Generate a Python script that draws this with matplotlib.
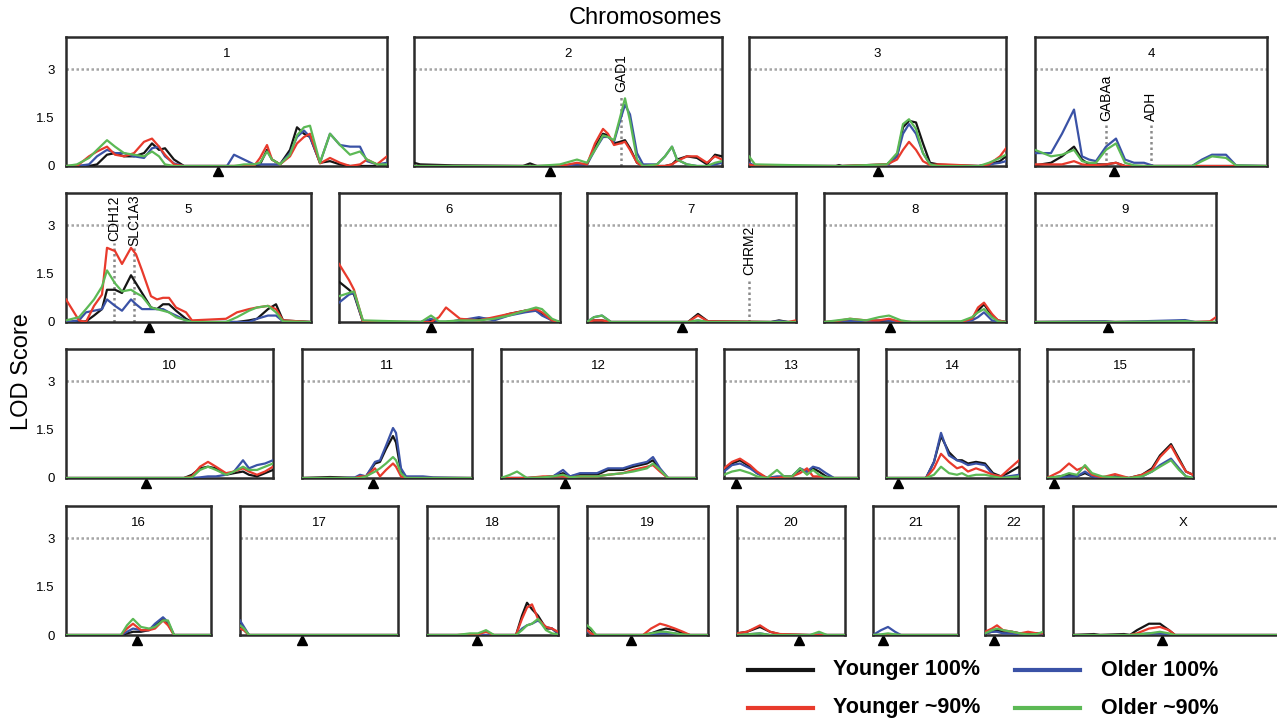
import matplotlib.pyplot as plt
from matplotlib.lines import Line2D
from matplotlib.transforms import blended_transform_factory

plt.rcParams['font.family'] = ['Liberation Sans', 'DejaVu Sans']

# chromosome layout (4 rows of panels)
rows = [
    ['1', '2', '3', '4'],
    ['5', '6', '7', '8', '9'],
    ['10', '11', '12', '13', '14', '15'],
    ['16', '17', '18', '19', '20', '21', '22', 'X'],
]

# chromosome length (cM) and centromere position (cM)
chrom_length = {'1': 321, '2': 308, '3': 257, '4': 232, '5': 245, '6': 221, '7': 209,
                '8': 182, '9': 181, '10': 207, '11': 170, '12': 195, '13': 134, '14': 133,
                '15': 146, '16': 145, '17': 158, '18': 131, '19': 121, '20': 108, '21': 85,
                '22': 58, 'X': 221}
centromere = {'1': 152, '2': 136, '3': 129, '4': 79, '5': 83, '6': 92, '7': 95, '8': 66,
              '9': 73, '10': 80, '11': 71, '12': 64, '13': 12, '14': 12, '15': 7, '16': 71,
              '17': 62, '18': 50, '19': 44, '20': 62, '21': 10, '22': 9, 'X': 89}

# marker positions (cM) along each chromosome
positions = {
    '1': [0, 11, 23, 31, 41, 49, 58, 68, 78, 86, 93, 99, 108, 118, 134, 161, 168, 178, 188, 194,
          201, 206, 214, 224, 231, 238, 244, 254, 264, 274, 284, 294, 301, 311, 321],
    '2': [0, 6, 39, 109, 116, 123, 146, 163, 173, 181, 189, 194, 200, 206, 211, 216, 223, 229,
          243, 251, 258, 263, 273, 283, 293, 301, 308],
    '3': [0, 6, 87, 90, 93, 138, 148, 154, 160, 167, 174, 181, 189, 196, 230, 240, 251, 257],
    '4': [0, 16, 27, 39, 47, 54, 61, 71, 81, 90, 99, 109, 119, 157, 167, 177, 191, 201, 232],
    '5': [0, 13, 20, 28, 36, 41, 49, 56, 65, 70, 76, 85, 91, 97, 103, 110, 120, 126, 160, 171,
          183, 191, 202, 210, 217, 245],
    '6': [0, 10, 15, 24, 82, 92, 100, 107, 121, 140, 155, 170, 186, 197, 203, 213, 221],
    '7': [0, 7, 15, 24, 101, 111, 121, 184, 192, 201, 209],
    '8': [0, 13, 26, 42, 55, 65, 77, 88, 137, 148, 154, 160, 168, 174, 182],
    '9': [0, 70, 80, 140, 150, 160, 175, 181],
    '10': [0, 118, 126, 134, 142, 150, 160, 168, 177, 183, 191, 199, 207],
    '11': [0, 28, 38, 53, 58, 64, 73, 78, 84, 91, 94, 99, 104, 121, 131, 170],
    '12': [0, 9, 16, 26, 42, 52, 62, 69, 79, 96, 107, 122, 132, 146, 152, 159, 167, 195],
    '13': [0, 8, 16, 26, 33, 43, 53, 60, 68, 76, 83, 89, 95, 102, 110, 134],
    '14': [0, 40, 48, 55, 63, 71, 76, 82, 90, 99, 107, 115, 122, 133],
    '15': [0, 13, 22, 30, 38, 45, 55, 68, 82, 95, 105, 113, 124, 132, 139, 146],
    '16': [0, 55, 61, 67, 75, 83, 89, 97, 102, 108, 145],
    '17': [0, 4, 9, 158],
    '18': [0, 30, 43, 51, 59, 67, 89, 95, 100, 105, 111, 119, 125, 131],
    '19': [0, 4, 9, 56, 64, 73, 79, 88, 96, 103, 121],
    '20': [0, 10, 23, 33, 43, 73, 82, 90, 108],
    '21': [0, 8, 15, 22, 28, 85],
    '22': [0, 7, 12, 18, 27, 35, 43, 52, 58],
    'X': [0, 21, 27, 51, 57, 64, 76, 87, 96, 102, 221],
}

younger_100 = {
    '1': [0, 0, 0, 0.05, 0.35, 0.4, 0.3, 0.3, 0.4, 0.7, 0.5, 0.55, 0.2, 0, 0, 0, 0, 0, 0, 0.05,
          0.5, 0.2, 0.05, 0.5, 1.2, 1.0, 0.9, 0.1, 0.15, 0.05, 0, 0, 0, 0, 0],
    '2': [0.1, 0.05, 0.02, 0, 0.08, 0, 0, 0.05, 0.05, 0.6, 1.0, 0.95, 0.7, 0.75, 0.8, 0.55, 0.1,
          0, 0, 0, 0.05, 0.2, 0.3, 0.25, 0.05, 0.35, 0.3],
    '3': [0.05, 0, 0, 0.03, 0, 0.05, 0.3, 1.2, 1.4, 1.35, 0.7, 0.1, 0.05, 0.03, 0, 0.05, 0.15, 0.3],
    '4': [0.02, 0.1, 0.3, 0.6, 0.2, 0.05, 0.05, 0.05, 0.1, 0, 0, 0, 0, 0, 0, 0, 0, 0, 0],
    '5': [0, 0, 0.02, 0.2, 0.4, 1.0, 1.0, 0.9, 1.45, 1.2, 0.9, 0.45, 0.4, 0.55, 0.55, 0.35, 0.1,
          0, 0, 0, 0.05, 0.1, 0.4, 0.55, 0.05, 0],
    '6': [1.25, 1.0, 0.85, 0, 0, 0.05, 0, 0, 0.05, 0.1, 0.1, 0.25, 0.35, 0.35, 0.25, 0.05, 0],
    '7': [0, 0.05, 0.05, 0, 0, 0.25, 0.02, 0, 0.05, 0, 0],
    '8': [0, 0, 0.03, 0, 0.03, 0.05, 0, 0, 0, 0.1, 0.35, 0.55, 0.2, 0.05, 0],
    '9': [0, 0.01, 0, 0, 0, 0, 0, 0],
    '10': [0, 0, 0.1, 0.3, 0.35, 0.3, 0.1, 0.15, 0.2, 0.1, 0.05, 0.15, 0.25],
    '11': [0, 0.03, 0.02, 0, 0, 0.05, 0.45, 0.5, 0.9, 1.3, 1.1, 0.2, 0, 0.02, 0, 0],
    '12': [0, 0, 0, 0, 0.02, 0.05, 0.15, 0.05, 0.1, 0.1, 0.25, 0.25, 0.35, 0.45, 0.55, 0.25, 0, 0],
    '13': [0.25, 0.45, 0.55, 0.35, 0.15, 0, 0, 0.05, 0.05, 0.25, 0.2, 0.3, 0.2, 0.05, 0, 0],
    '14': [0, 0, 0.5, 1.3, 0.8, 0.55, 0.55, 0.45, 0.5, 0.45, 0.15, 0.05, 0.15, 0.35],
    '15': [0, 0.05, 0.1, 0.05, 0.15, 0.05, 0, 0.05, 0, 0.1, 0.3, 0.7, 1.05, 0.6, 0.2, 0.1],
    '16': [0, 0, 0.05, 0.1, 0.1, 0.15, 0.3, 0.5, 0.35, 0, 0],
    '17': [0.25, 0.15, 0, 0],
    '18': [0, 0, 0, 0, 0, 0, 0, 0.6, 1.0, 0.8, 0.6, 0.2, 0.2, 0.05],
    '19': [0.25, 0.15, 0, 0, 0.05, 0.15, 0.2, 0.15, 0.05, 0, 0],
    '20': [0.05, 0.1, 0.25, 0.1, 0.02, 0, 0, 0, 0],
    '21': [0, 0, 0, 0, 0, 0],
    '22': [0.05, 0.1, 0.15, 0.1, 0.1, 0.05, 0.02, 0.05, 0.05],
    'X': [0, 0.03, 0, 0.03, 0, 0.15, 0.35, 0.35, 0.15, 0, 0],
}

younger_90 = {
    '1': [0, 0, 0.3, 0.45, 0.6, 0.35, 0.3, 0.4, 0.75, 0.85, 0.6, 0.35, 0.05, 0, 0, 0, 0, 0, 0,
          0.25, 0.65, 0.2, 0.05, 0.3, 0.7, 0.9, 1.0, 0.08, 0.25, 0.1, 0, 0.05, 0.2, 0.05, 0.3],
    '2': [0, 0, 0, 0, 0, 0, 0, 0.1, 0.05, 0.7, 1.15, 1.0, 0.65, 0.7, 0.75, 0.5, 0.1, 0, 0, 0,
          0.05, 0.15, 0.3, 0.3, 0.1, 0.3, 0.2],
    '3': [0.05, 0, 0, 0, 0, 0.05, 0.2, 0.5, 0.75, 0.5, 0.15, 0.03, 0.05, 0.05, 0, 0.05, 0.3, 0.55],
    '4': [0.05, 0.05, 0.05, 0.15, 0.05, 0.03, 0.03, 0.05, 0.1, 0, 0, 0, 0, 0, 0, 0, 0, 0, 0],
    '5': [0.7, 0.05, 0, 0.5, 0.85, 2.3, 2.2, 1.8, 2.3, 2.1, 1.6, 0.8, 0.7, 0.75, 0.75, 0.45, 0.3,
          0.05, 0.1, 0.3, 0.4, 0.45, 0.5, 0.4, 0.05, 0],
    '6': [1.8, 1.3, 1.0, 0, 0, 0, 0.15, 0.45, 0.1, 0.05, 0.15, 0.25, 0.35, 0.4, 0.3, 0.05, 0],
    '7': [0, 0.05, 0.05, 0, 0, 0.2, 0.02, 0, 0, 0, 0.05],
    '8': [0, 0.03, 0.1, 0.05, 0.05, 0.1, 0, 0, 0, 0.1, 0.45, 0.6, 0.25, 0.05, 0],
    '9': [0, 0, 0, 0, 0, 0, 0.02, 0.15],
    '10': [0, 0, 0.05, 0.35, 0.5, 0.35, 0.15, 0.2, 0.3, 0.2, 0.1, 0.2, 0.35],
    '11': [0, 0, 0, 0, 0.05, 0.05, 0.3, 0.05, 0.25, 0.45, 0.35, 0.05, 0, 0, 0, 0],
    '12': [0, 0, 0, 0, 0.05, 0.05, 0.05, 0.02, 0.05, 0.05, 0.1, 0.15, 0.25, 0.35, 0.4, 0.2, 0, 0],
    '13': [0.3, 0.5, 0.6, 0.4, 0.2, 0, 0, 0.03, 0.05, 0.15, 0.3, 0.05, 0.05, 0, 0, 0],
    '14': [0, 0, 0.3, 0.75, 0.5, 0.3, 0.35, 0.2, 0.3, 0.2, 0.1, 0.05, 0.25, 0.55],
    '15': [0, 0.2, 0.45, 0.25, 0.35, 0.1, 0.02, 0.12, 0, 0.1, 0.25, 0.65, 1.0, 0.55, 0.2, 0.1],
    '16': [0, 0, 0.2, 0.35, 0.15, 0.15, 0.2, 0.45, 0.3, 0, 0],
    '17': [0.2, 0.15, 0, 0],
    '18': [0, 0, 0.02, 0.02, 0.1, 0, 0, 0.5, 0.85, 0.95, 0.5, 0.25, 0.2, 0.1],
    '19': [0.15, 0.05, 0, 0, 0.2, 0.35, 0.3, 0.2, 0.1, 0, 0],
    '20': [0.05, 0.1, 0.3, 0.1, 0.03, 0, 0, 0, 0],
    '21': [0, 0, 0, 0, 0, 0],
    '22': [0.1, 0.2, 0.3, 0.15, 0.1, 0.05, 0.1, 0.05, 0.05],
    'X': [0, 0, 0, 0, 0, 0.05, 0.2, 0.25, 0.15, 0, 0],
}

older_100 = {
    '1': [0, 0, 0.05, 0.3, 0.5, 0.4, 0.4, 0.3, 0.25, 0.55, 0.6, 0.3, 0.08, 0, 0, 0, 0.35, 0.2,
          0.05, 0.05, 0.05, 0.05, 0.05, 0.4, 0.9, 1.1, 0.9, 0.1, 1.0, 0.65, 0.6, 0.6, 0.15, 0.05, 0.1],
    '2': [0, 0, 0, 0, 0, 0, 0, 0.05, 0.05, 0.5, 0.9, 0.9, 0.75, 1.4, 1.9, 1.6, 0.4, 0.05, 0.05,
          0.3, 0.6, 0.2, 0.05, 0, 0, 0.05, 0.1],
    '3': [0.1, 0, 0, 0, 0, 0, 0.3, 1.0, 1.3, 1.0, 0.4, 0.05, 0, 0, 0, 0.05, 0.1, 0.15],
    '4': [0.4, 0.4, 1.0, 1.75, 0.3, 0.2, 0.15, 0.6, 0.85, 0.2, 0.1, 0.1, 0, 0, 0.2, 0.35, 0.35,
          0.02, 0],
    '5': [0, 0.05, 0.3, 0.35, 0.4, 0.7, 0.5, 0.35, 0.7, 0.55, 0.4, 0.4, 0.4, 0.4, 0.3, 0.2, 0.05,
          0, 0, 0, 0, 0.1, 0.2, 0.2, 0.02, 0],
    '6': [0.6, 0.85, 0.9, 0, 0, 0.1, 0, 0, 0.05, 0.15, 0.05, 0.2, 0.3, 0.35, 0.2, 0.05, 0],
    '7': [0, 0.15, 0.2, 0, 0, 0.05, 0, 0, 0.03, 0, 0],
    '8': [0, 0, 0.03, 0.03, 0.05, 0.05, 0, 0, 0, 0.05, 0.15, 0.3, 0.05, 0.02, 0],
    '9': [0, 0.02, 0, 0.05, 0.06, 0, 0, 0],
    '10': [0, 0, 0, 0.02, 0.05, 0.05, 0.1, 0.2, 0.55, 0.3, 0.4, 0.45, 0.55],
    '11': [0, 0, 0, 0.02, 0.1, 0.05, 0.5, 0.55, 1.0, 1.55, 1.4, 0.3, 0.05, 0.05, 0.02, 0],
    '12': [0, 0, 0, 0, 0.02, 0.05, 0.25, 0.05, 0.15, 0.15, 0.3, 0.3, 0.4, 0.5, 0.65, 0.3, 0, 0],
    '13': [0.2, 0.4, 0.45, 0.3, 0.15, 0, 0.05, 0.05, 0.05, 0.3, 0.2, 0.35, 0.3, 0.15, 0, 0],
    '14': [0, 0, 0.5, 1.4, 0.7, 0.55, 0.5, 0.4, 0.45, 0.4, 0.1, 0.02, 0.05, 0.1],
    '15': [0, 0, 0.05, 0.05, 0.2, 0.05, 0, 0.02, 0, 0.05, 0.2, 0.4, 0.6, 0.3, 0.05, 0],
    '16': [0, 0, 0.1, 0.2, 0.15, 0.15, 0.35, 0.55, 0.4, 0, 0],
    '17': [0.45, 0.25, 0, 0],
    '18': [0, 0, 0, 0, 0, 0, 0, 0.2, 0.3, 0.35, 0.45, 0.25, 0.2, 0.05],
    '19': [0.1, 0.05, 0, 0, 0, 0.05, 0.05, 0.05, 0, 0, 0],
    '20': [0, 0.02, 0.05, 0, 0, 0, 0.02, 0, 0],
    '21': [0, 0.15, 0.25, 0.1, 0, 0],
    '22': [0.05, 0.1, 0.1, 0.05, 0.05, 0, 0, 0, 0],
    'X': [0, 0, 0, 0, 0, 0.02, 0.05, 0.05, 0.02, 0, 0],
}

older_90 = {
    '1': [0, 0.05, 0.25, 0.5, 0.8, 0.6, 0.4, 0.35, 0.3, 0.45, 0.3, 0.05, 0, 0, 0, 0, 0, 0.05,
          0.05, 0.1, 0.45, 0.2, 0.05, 0.35, 0.95, 1.2, 1.25, 0.1, 1.0, 0.65, 0.35, 0.45, 0.2, 0.05, 0.05],
    '2': [0, 0, 0, 0, 0, 0, 0.05, 0.2, 0.1, 0.5, 0.95, 0.9, 0.8, 1.5, 2.1, 1.4, 0.2, 0, 0.05,
          0.3, 0.6, 0.2, 0.05, 0, 0, 0.1, 0.15],
    '3': [0.3, 0.05, 0, 0, 0, 0.05, 0.4, 1.3, 1.45, 1.15, 0.4, 0.05, 0, 0, 0, 0.1, 0.25, 0.35],
    '4': [0.5, 0.3, 0.35, 0.5, 0.15, 0.1, 0.1, 0.5, 0.7, 0.1, 0.02, 0, 0, 0, 0.15, 0.3, 0.25,
          0.02, 0],
    '5': [0.05, 0.15, 0.4, 0.7, 1.1, 1.6, 1.2, 0.95, 1.0, 0.9, 0.8, 0.45, 0.4, 0.35, 0.3, 0.15,
          0.05, 0, 0, 0.15, 0.35, 0.45, 0.5, 0.3, 0.02, 0],
    '6': [0.8, 0.9, 0.95, 0.05, 0, 0.2, 0.02, 0.02, 0.05, 0.05, 0.1, 0.2, 0.35, 0.45, 0.4, 0.1, 0],
    '7': [0, 0.15, 0.2, 0, 0, 0.05, 0, 0, 0, 0, 0],
    '8': [0, 0.05, 0.1, 0.05, 0.15, 0.2, 0.05, 0, 0.02, 0.15, 0.3, 0.4, 0.15, 0.02, 0],
    '9': [0, 0, 0, 0.02, 0.03, 0, 0, 0],
    '10': [0, 0, 0.02, 0.25, 0.35, 0.25, 0.1, 0.2, 0.35, 0.25, 0.25, 0.35, 0.45],
    '11': [0, 0, 0, 0, 0, 0.05, 0.2, 0.3, 0.45, 0.65, 0.55, 0.15, 0, 0, 0, 0],
    '12': [0, 0.1, 0.2, 0, 0.02, 0.05, 0.1, 0.02, 0.05, 0.05, 0.1, 0.15, 0.2, 0.3, 0.45, 0.25, 0, 0],
    '13': [0.1, 0.2, 0.25, 0.15, 0.05, 0, 0.25, 0.05, 0.05, 0.3, 0.1, 0.25, 0.1, 0.02, 0, 0],
    '14': [0, 0, 0.1, 0.35, 0.15, 0.1, 0.15, 0.05, 0.1, 0.1, 0.05, 0, 0.02, 0.05],
    '15': [0, 0.05, 0.15, 0.1, 0.4, 0.15, 0.05, 0.02, 0, 0.05, 0.2, 0.35, 0.55, 0.25, 0.05, 0],
    '16': [0, 0, 0.3, 0.5, 0.25, 0.2, 0.25, 0.45, 0.45, 0, 0],
    '17': [0.3, 0.2, 0, 0],
    '18': [0, 0, 0.05, 0.05, 0.15, 0, 0, 0.15, 0.3, 0.35, 0.5, 0.15, 0.05, 0.02],
    '19': [0.3, 0.2, 0, 0, 0.05, 0.1, 0.1, 0.05, 0.02, 0, 0],
    '20': [0, 0.02, 0.05, 0, 0, 0, 0.1, 0, 0],
    '21': [0, 0.02, 0.05, 0.02, 0, 0],
    '22': [0.05, 0.15, 0.2, 0.15, 0.1, 0.05, 0.02, 0.03, 0.1],
    'X': [0, 0, 0, 0, 0, 0.02, 0.05, 0.1, 0.05, 0, 0],
}

# candidate genes: name, chromosome, position (cM), top of dotted line, label start (LOD)
gene_names = ['GAD1', 'GABAa', 'ADH', 'CDH12', 'SLC1A3', 'CHRM2']
gene_chrom = ['2', '4', '4', '5', '5', '7']
gene_pos = [207, 71, 116, 48, 68, 162]
gene_line_top = [2.2, 1.27, 1.32, 2.45, 2.3, 1.26]
gene_label_y = [2.3, 1.4, 1.4, 2.5, 2.35, 1.45]

series = [
    ('Younger 100%', younger_100, '#151515'),
    ('Older 100%', older_100, '#3a52a6'),
    ('Younger ~90%', younger_90, '#e83a2c'),
    ('Older ~90%', older_90, '#5cb955'),
]

# page geometry (pixels)
W, H = 1277, 718
panel_left_px = {'1': 66, '2': 414, '3': 749, '4': 1035,
                 '5': 66, '6': 339, '7': 587, '8': 824, '9': 1035,
                 '10': 66, '11': 302, '12': 501, '13': 724, '14': 886, '15': 1047,
                 '16': 66, '17': 240, '18': 427, '19': 587, '20': 737, '21': 873, '22': 985,
                 'X': 1073}
row_zero_px = [166, 322, 478, 635]
panel_h_px = 129

fig = plt.figure(figsize=(W / 100, H / 100), dpi=100)

for r, row in enumerate(rows):
    for c, ch in enumerate(row):
        ax = fig.add_axes([panel_left_px[ch] / W, 1 - row_zero_px[r] / H,
                           chrom_length[ch] / W, panel_h_px / H])
        ax.set_xlim(0, chrom_length[ch])
        ax.set_ylim(0, 4.0)
        ax.axhline(3, color='#a5a5a5', lw=1.8, ls=(0, (1, 1)), zorder=1)

        for i, g in enumerate(gene_names):
            if gene_chrom[i] == ch:
                ax.plot([gene_pos[i], gene_pos[i]], [0, gene_line_top[i]], color='#8a8a8a',
                        lw=1.8, ls=(0, (1, 1.2)), zorder=1)
                ax.text(gene_pos[i], gene_label_y[i], g, rotation=90, ha='center',
                        va='bottom', fontsize=10, zorder=4)

        for name, data, color in series:
            ax.plot(positions[ch], data[ch], color=color, lw=1.6, zorder=3)

        trans = blended_transform_factory(ax.transData, ax.transAxes)
        ax.plot([centromere[ch]], [-0.035], marker='^', color='black', ms=6.5,
                transform=trans, clip_on=False)
        ax.text(0.5, 0.87, ch, transform=ax.transAxes, ha='center', va='center', fontsize=9.5)

        ax.set_xticks([])
        if c == 0:
            ax.set_yticks([0, 1.5, 3])
            ax.set_yticklabels(['0', '1.5', '3'])
            ax.tick_params(axis='y', length=0, pad=8, labelsize=9.5)
        else:
            ax.set_yticks([])
        for sp in ax.spines.values():
            sp.set_linewidth(1.8)
            sp.set_color('#2b2b2b')

fig.text(645 / W, 1 - 18 / H, 'Chromosomes', ha='center', va='center', fontsize=17)
fig.text(22 / W, 1 - 372 / H, 'LOD Score', ha='center', va='center', fontsize=17,
         rotation=90)

# legend drawn by hand, two columns
legend_x = [(748, 833), (1015, 1101), (748, 833), (1015, 1101)]
legend_y = [670, 670, 708, 708]
for k in range(4):
    name, data, color = series[k]
    x0, xt = legend_x[k]
    y = 1 - legend_y[k] / H
    fig.add_artist(Line2D([x0 / W, (x0 + 65) / W], [y, y], color=color, lw=3))
    fig.text(xt / W, y, name, ha='left', va='center', fontsize=15.5, fontweight='bold')

fig.savefig('out.png', dpi=100)
